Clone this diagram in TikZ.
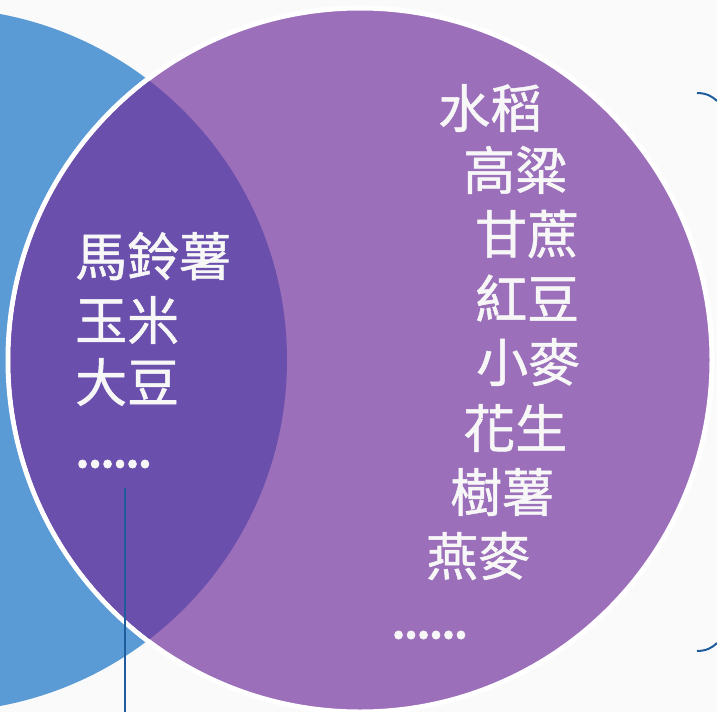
\documentclass[tikz,border=0pt]{standalone}
\usepackage{fontspec}
\newfontfamily\cjk{Noto Sans CJK TC}[FakeBold=1]
\definecolor{bg}{HTML}{FAFAFA}
\definecolor{cblue}{HTML}{5B9BD5}
\definecolor{cpurple}{HTML}{9B6FBA}
\definecolor{cdark}{HTML}{6A4FAC}
\definecolor{cline}{HTML}{1F5C9E}
\definecolor{ctext}{HTML}{F7F7F7}
\newcommand\dotrow{.\kern-4.2pt.\kern-4.2pt.\kern-4.2pt.\kern-4.2pt.\kern-4.2pt.}
\tikzset{
  lab/.style={anchor=west, inner sep=0pt, text=ctext, font=\cjk\fontsize{52}{52}\selectfont},
  dots/.style={anchor=west, inner sep=0pt, text=ctext, font=\cjk\fontsize{60}{60}\selectfont},
  conn/.style={draw=cline, line width=2.5pt},
}
\begin{document}
\begin{tikzpicture}[x=1pt,y=-1pt]
\fill[bg] (0,0) rectangle (717,712);
\useasboundingbox (0,0) rectangle (717,712);
\begin{scope}
\clip (0,0) rectangle (717,712);
\fill[cblue] (-65,360) circle[radius=352];
\filldraw[fill=cpurple, draw=white, line width=5pt] (360,360) circle[radius=352];
\begin{scope}
\clip (-65,360) circle[radius=352];
\fill[cdark] (360,360) circle[radius=349.5];
\end{scope}
\end{scope}
% right bracket ends
\coordinate (bt1) at (697,93);
\coordinate (bt2) at (717,101);
\coordinate (bb1) at (697,651);
\coordinate (bb2) at (717,643);
\draw[conn, line width=2pt] (bt1) .. controls (707,93) and (713,97) .. (bt2);
\draw[conn, line width=2pt] (bb1) .. controls (707,651) and (713,647) .. (bb2);
% left texts
\node[lab] (l1) at (75,256) {馬鈴薯};
\node[lab] (l2) at (75,320) {玉米};
\node[lab] (l3) at (75,382) {大豆};
\node[dots] (l4) at (74,464) {\dotrow};
% right texts
\node[lab] (r1) at (438,108) {水稻};
\node[lab] (r2) at (463,170) {高粱};
\node[lab] (r3) at (475,234) {甘蔗};
\node[lab] (r4) at (475,298) {紅豆};
\node[lab] (r5) at (476,362) {小麥};
\node[lab] (r6) at (463,428) {花生};
\node[lab] (r7) at (450,492) {樹薯};
\node[lab] (r8) at (426,556) {燕麥};
\node[dots] (r9) at (390,635) {\dotrow};
% vertical connector
\coordinate (vt) at (125,488);
\coordinate (vb) at (125,712);
\draw[conn] (vt) -- (vb);
\end{tikzpicture}
\end{document}
